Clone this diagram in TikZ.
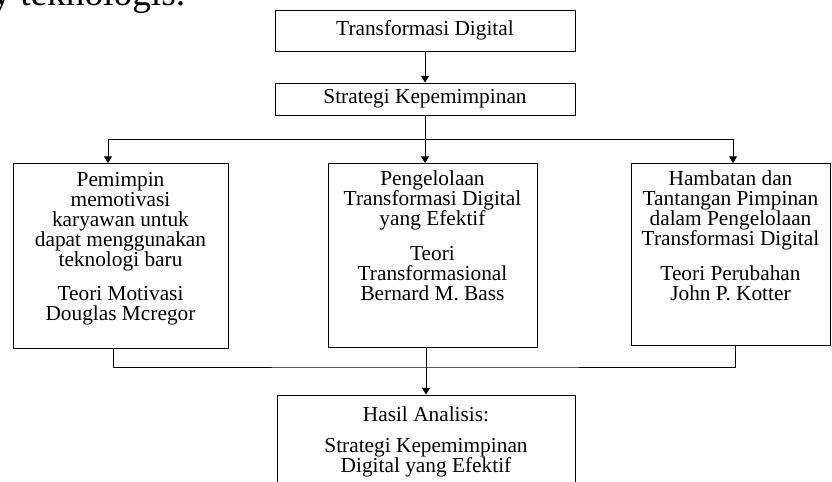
\documentclass[tikz,border=0pt]{standalone}
\usepackage{fontspec}
\setmainfont{Liberation Serif}
\usetikzlibrary{positioning,fit,arrows.meta}

\begin{document}
\begin{tikzpicture}[x=0.75pt,y=-0.75pt,
    box/.style={rectangle,draw,line width=0.75pt,inner sep=0pt,font=\fontsize{16}{15}\selectfont},
    txt/.style={align=center,inner sep=0pt,font=\fontsize{16}{15}\selectfont},
    link/.style={line width=0.75pt},
    arr/.style={link,-{Triangle[length=5pt,width=6pt]}}]

\useasboundingbox (0,0) rectangle (832,482);

% end of the running text above the figure
\node[anchor=base west,inner sep=0pt,font=\fontsize{28}{34}\selectfont] (prev) at (-8,5) {y teknologis.};

\node[box,minimum width=225pt,minimum height=30.75pt] (digital) at (425,30.5) {Transformasi Digital};
\node[box,minimum width=225pt,minimum height=24pt] (strategy) at (425,99) {Strategi Kepemimpinan};

\node[box,fit={(13,163) (228,348)}] (motiv) {};
\node[box,fit={(328,163) (537,347)}] (manage) {};
\node[box,fit={(631,163) (830,345)}] (barrier) {};
\node[box,fit={(277,395) (575,500)}] (result) {};

\node[txt,anchor=north] (motivText) at ([yshift=-7pt]motiv.north)
  {Pemimpin\\memotivasi\\karyawan untuk\\dapat menggunakan\\teknologi baru\\[11pt]Teori Motivasi\\Douglas Mcregor};
\node[txt,anchor=north] (manageText) at ([yshift=-6pt]manage.north)
  {Pengelolaan\\Transformasi Digital\\yang Efektif\\[11pt]Teori\\Transformasional\\Bernard M. Bass};
\node[txt,anchor=north] (barrierText) at ([yshift=-6pt]barrier.north)
  {Hambatan dan\\Tantangan Pimpinan\\dalam Pengelolaan\\Transformasi Digital\\[11pt]Teori Perubahan\\John P. Kotter};
\node[txt,anchor=north] (resultText) at ([yshift=-9pt]result.north)
  {Hasil Analisis:\\[8pt]Strategi Kepemimpinan\\Digital yang Efektif};

% top part
\draw[arr] (digital) -- (strategy);
\coordinate (split) at (425,139);
\coordinate (motivIn) at (108,163);
\coordinate (manageIn) at (425,163);
\coordinate (barrierIn) at (733,163);
\draw[link] (strategy) -- (split);
\draw[arr] (split) -| (motivIn);
\draw[arr] (split) -- (manageIn);
\draw[arr] (split) -| (barrierIn);

% bottom part
\coordinate (motivOut) at (113,348);
\coordinate (manageOut) at (426,347);
\coordinate (barrierOut) at (735,345);
\coordinate (join) at (426,367);
\draw[link] (motivOut) |- (join) -| (barrierOut);
\draw[link] (manageOut) -- (join);
\draw[arr] (join) -- (result);

\end{tikzpicture}
\end{document}
